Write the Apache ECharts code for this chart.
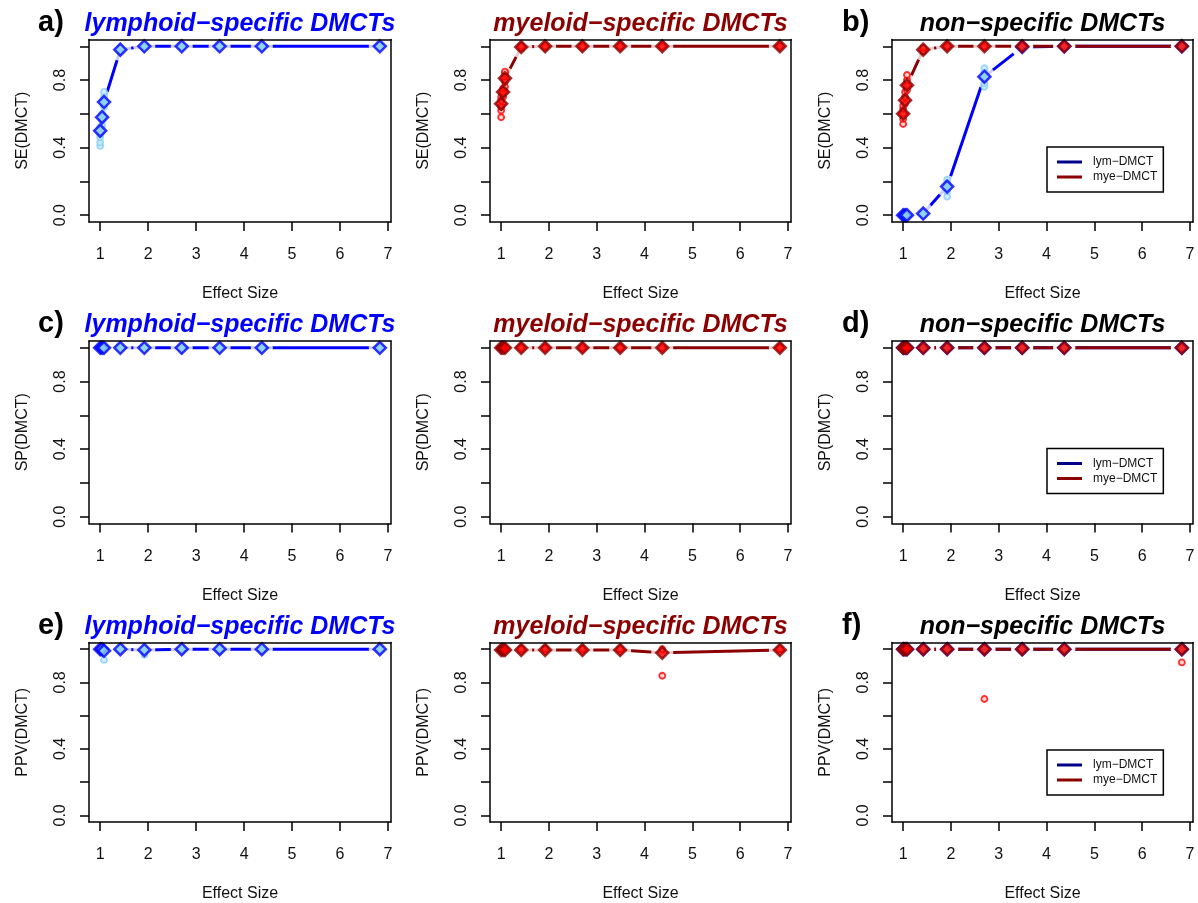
<!DOCTYPE html>
<html><head><meta charset="utf-8">
<script src="https://cdn.jsdelivr.net/npm/echarts@6/dist/echarts.min.js"></script>
<style>html,body{margin:0;padding:0;background:#fff}#c{width:1198px;height:903px}</style>
</head><body><div id="c"></div>
<script>
// ---------- data ----------
const effectSize = [1.00, 1.04, 1.08, 1.42, 1.92, 2.70, 3.49, 4.37, 6.83];
const xTicks = [1, 2, 3, 4, 5, 6, 7];
const yTicks = [0, 0.2, 0.4, 0.6, 0.8, 1.0];
const yTickLabels = [0, 0.4, 0.8];
const rowMetrics = ['SE(DMCT)', 'SP(DMCT)', 'PPV(DMCT)'];
const colTitles = ['lymphoid\u2212specific DMCTs', 'myeloid\u2212specific DMCTs', 'non\u2212specific DMCTs'];
const panelLetters = [['a)', null, 'b)'], ['c)', null, 'd)'], ['e)', null, 'f)']];
const legendNames = ['lym\u2212DMCT', 'mye\u2212DMCT'];

// SE row
const seLymSpec_lymMean = [0.50, 0.58, 0.67, 0.98, 1.00, 1.00, 1.00, 1.00, 1.00];
const seLymSpec_lymReps = [[0.41,0.43,0.46,0.48,0.52],[0.53,0.56,0.58,0.60],[0.64,0.67,0.70,0.73],[0.97,0.98,0.99],[1,1],[1,1],[1,1],[1,1],[1,1]];
const seMyeSpec_myeMean = [0.66, 0.73, 0.81, 0.995, 1.00, 1.00, 1.00, 1.00, 1.00];
const seMyeSpec_myeReps = [[0.58,0.62,0.64,0.68,0.70],[0.70,0.73,0.75],[0.76,0.79,0.82,0.84,0.85],[0.99,1],[1,1],[1,1],[1,1],[1,1],[1,1]];
const seNonSpec_lymMean = [0.00, 0.00, 0.00, 0.01, 0.17, 0.82, 0.995, 1.00, 1.00];
const seNonSpec_lymReps = [[0,0],[0,0],[0,0],[0,0.01],[0.11,0.14,0.17,0.19,0.21],[0.76,0.78,0.82,0.85,0.87],[0.99,1],[1,1],[1,1]];
const seNonSpec_myeMean = [0.60, 0.68, 0.77, 0.98, 1.00, 1.00, 1.00, 1.00, 1.00];
const seNonSpec_myeReps = [[0.54,0.57,0.60,0.63,0.65],[0.66,0.70,0.73],[0.74,0.77,0.80,0.83],[0.97,0.99],[1,1],[1,1],[1,1],[1,1],[1,1]];

// SP row
const spLymSpec_lymMean = [1, 1, 1, 1, 1, 1, 1, 1, 1];
const spLymSpec_lymReps = [[1,1],[1,1],[1,1],[1,1],[1,1],[1,1],[1,1],[1,1],[1,1]];
const spMyeSpec_myeMean = [1, 1, 1, 1, 1, 1, 1, 1, 1];
const spMyeSpec_myeReps = [[1,1],[1,1],[1,1],[1,1],[1,1],[1,1],[1,1],[1,1],[1,1]];
const spNonSpec_lymMean = [1, 1, 1, 1, 1, 1, 1, 1, 1];
const spNonSpec_lymReps = [[1,1],[1,1],[1,1],[1,1],[1,1],[1,1],[1,1],[1,1],[1,1]];
const spNonSpec_myeMean = [1, 1, 1, 1, 1, 1, 1, 1, 1];
const spNonSpec_myeReps = [[1,1],[1,1],[1,1],[1,1],[1,1],[1,1],[1,1],[1,1],[1,1]];

// PPV row
const ppvLymSpec_lymMean = [1.00, 1.00, 0.99, 1.00, 0.995, 1.00, 1.00, 1.00, 1.00];
const ppvLymSpec_lymReps = [[1,1],[1,1],[0.935,1],[1,1],[0.965,1],[1,1],[1,1],[1,1],[1,1]];
const ppvMyeSpec_myeMean = [0.995, 0.995, 0.995, 0.995, 0.995, 0.995, 0.995, 0.978, 0.995];
const ppvMyeSpec_myeReps = [[1,1],[1,1],[1,1],[1,1],[1,1],[1,1],[1,1],[0.84,1],[1,1]];
const ppvNonSpec_lymMean = [1, 1, 1, 1, 1, 1, 1, 1, 1];
const ppvNonSpec_lymReps = [[1,1],[1,1],[1,1],[1,1],[1,1],[1,1],[1,1],[1,1],[1,1]];
const ppvNonSpec_myeMean = [1, 1, 1, 1, 1, 1, 1, 1, 1];
const ppvNonSpec_myeReps = [[1,1],[1,1],[1,1],[1,1],[1,1],[0.70,1],[1,1],[1,1],[0.92,1]];

// ---------- panel structure ----------
const panels = [
  [ [['lym', seLymSpec_lymMean, seLymSpec_lymReps]],
    [['mye', seMyeSpec_myeMean, seMyeSpec_myeReps]],
    [['lym', seNonSpec_lymMean, seNonSpec_lymReps], ['mye', seNonSpec_myeMean, seNonSpec_myeReps]] ],
  [ [['lym', spLymSpec_lymMean, spLymSpec_lymReps]],
    [['mye', spMyeSpec_myeMean, spMyeSpec_myeReps]],
    [['lym', spNonSpec_lymMean, spNonSpec_lymReps], ['mye', spNonSpec_myeMean, spNonSpec_myeReps]] ],
  [ [['lym', ppvLymSpec_lymMean, ppvLymSpec_lymReps]],
    [['mye', ppvMyeSpec_myeMean, ppvMyeSpec_myeReps]],
    [['lym', ppvNonSpec_lymMean, ppvNonSpec_lymReps], ['mye', ppvNonSpec_myeMean, ppvNonSpec_myeReps]] ]
];

// ---------- styles / layout ----------
const FONT = '"Liberation Sans", Arial, Helvetica, sans-serif';
const groupStyle = {
  lym: { name: legendNames[0], line: '#0000FF', fill: '#87CEEB', border: '#0000FF', rep: '#87CEFA', repFill: '#cfeafc', legend: '#00008B' },
  mye: { name: legendNames[1], line: '#8B0000', fill: '#FF0000', border: '#8B0000', rep: '#FF0000', repFill: '#ffc8c8', legend: '#8B0000' }
};
const titleColors = ['#0000FF', '#8B0000', '#000000'];
const colLeft = [89, 490, 892];
const colWidth = [302, 301, 301];
const rowTop = [39.5, 341, 642.5];
const boxHeight = 182.5;
const rowStep = 301.5;

const xLo = Math.min(...effectSize), xHi = Math.max(...effectSize);
const xMin = xLo - 0.04 * (xHi - xLo), xMax = xHi + 0.04 * (xHi - xLo);
const yMin = -0.04, yMax = 1.04;

const grid = [], xAxis = [], yAxis = [], series = [], graphic = [];
const lineSt = { color: '#000', width: 1.5 };
const txt = { fontSize: 16, color: '#111', fontFamily: FONT };

for (let r = 0; r < 3; r++) {
  for (let c = 0; c < 3; c++) {
    const gi = grid.length;
    grid.push({ left: colLeft[c], top: rowTop[r], width: colWidth[c], height: boxHeight, containLabel: false });
    xAxis.push({
      gridIndex: gi, type: 'value', min: xMin, max: xMax, position: 'bottom', z: 10,
      axisLine: { show: true, onZero: false, lineStyle: lineSt },
      axisTick: { show: true, length: 9, customValues: xTicks, lineStyle: lineSt },
      axisLabel: { show: true, customValues: xTicks, margin: 25, ...txt, formatter: v => String(Math.round(v)) },
      splitLine: { show: false },
      name: 'Effect Size', nameLocation: 'middle', nameGap: 64, nameTextStyle: { ...txt }
    });
    xAxis.push({
      gridIndex: gi, type: 'value', min: xMin, max: xMax, position: 'top', z: 10,
      axisLine: { show: true, onZero: false, lineStyle: lineSt },
      axisTick: { show: false }, axisLabel: { show: false }, splitLine: { show: false }
    });
    yAxis.push({
      gridIndex: gi, type: 'value', min: yMin, max: yMax, position: 'left', z: 10,
      axisLine: { show: true, onZero: false, lineStyle: lineSt },
      axisTick: { show: true, length: 9, customValues: yTicks, lineStyle: lineSt },
      axisLabel: { show: true, customValues: yTickLabels, rotate: 90, margin: 20, ...txt, formatter: v => v.toFixed(1) },
      splitLine: { show: false },
      name: rowMetrics[r], nameLocation: 'middle', nameRotate: 90, nameGap: 58, nameTextStyle: { ...txt }
    });
    yAxis.push({
      gridIndex: gi, type: 'value', min: yMin, max: yMax, position: 'right', z: 10,
      axisLine: { show: true, onZero: false, lineStyle: lineSt },
      axisTick: { show: false }, axisLabel: { show: false }, splitLine: { show: false }
    });
    const xi = 2 * gi, yi = 2 * gi;
    panels[r][c].forEach(([g, mean, reps]) => {
      const st = groupStyle[g];
      const meanData = effectSize.map((x, i) => [x, mean[i]]);
      const repData = [];
      reps.forEach((vals, i) => vals.forEach(v => repData.push([effectSize[i], v])));
      series.push({ name: st.name, type: 'line', xAxisIndex: xi, yAxisIndex: yi, data: meanData,
        symbol: 'none', showSymbol: false, lineStyle: { color: st.line, width: 3 }, itemStyle: { color: st.line },
        z: 2, silent: true, animation: false });
      series.push({ name: st.name + ' gap', type: 'scatter', xAxisIndex: xi, yAxisIndex: yi, data: meanData,
        symbol: 'circle', symbolSize: 22, itemStyle: { color: '#ffffff' }, z: 3, silent: true, animation: false });
      series.push({ name: st.name + ' runs', type: 'scatter', xAxisIndex: xi, yAxisIndex: yi, data: repData,
        symbol: 'circle', symbolSize: 6, itemStyle: { color: st.repFill, borderColor: st.rep, borderWidth: 1.8 },
        z: 4, silent: true, animation: false });
      series.push({ name: st.name + ' mean', type: 'scatter', xAxisIndex: xi, yAxisIndex: yi, data: meanData,
        symbol: 'diamond', symbolSize: 12, itemStyle: { color: st.fill, borderColor: st.border, borderWidth: 2.5 },
        z: 5, silent: true, animation: false });
    });
    // panel title
    graphic.push({ type: 'text', x: colLeft[c] + colWidth[c] / 2, y: 24 + r * rowStep, z: 20,
      style: { text: colTitles[c], align: 'center', verticalAlign: 'middle', fill: titleColors[c],
        font: 'italic bold 25px ' + FONT } });
    if (panelLetters[r][c]) {
      graphic.push({ type: 'text', x: c === 0 ? 38 : 842, y: 22.5 + r * rowStep, z: 20,
        style: { text: panelLetters[r][c], align: 'left', verticalAlign: 'middle', fill: '#000',
          font: 'bold 29px ' + FONT } });
    }
  }
}

const legend = [0, 1, 2].map(r => ({
  left: 1047, top: 147 + r * rowStep, orient: 'vertical', selectedMode: false,
  data: ['lym', 'mye'].map(g => ({ name: groupStyle[g].name, icon: 'rect',
    itemStyle: { color: groupStyle[g].legend, borderWidth: 0 } })),
  itemWidth: 25, itemHeight: 3, itemGap: 3,
  padding: [9, 6, 9, 10], borderColor: '#000', borderWidth: 1.5, backgroundColor: '#fff', z: 20,
  textStyle: { fontSize: 12, color: '#111', fontFamily: FONT, padding: [0, 0, 0, 6] }
}));

const chart = echarts.init(document.getElementById('c'), null, { renderer: 'canvas' });
chart.setOption({ animation: false, backgroundColor: '#fff', grid, xAxis, yAxis, series, legend, graphic });
</script></body></html>
